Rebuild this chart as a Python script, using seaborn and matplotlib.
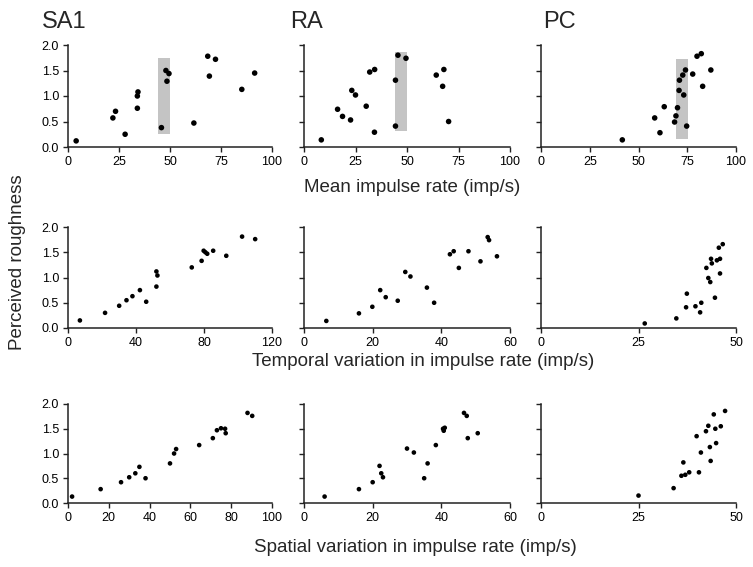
import numpy as np
import pandas as pd
import matplotlib
matplotlib.use("Agg")
import matplotlib.pyplot as plt
import seaborn as sns

# perceived roughness vs. three impulse rate measures, per afferent type
types = ["SA1", "RA", "PC"]
measures = ["Mean impulse rate (imp/s)",
            "Temporal variation in impulse rate (imp/s)",
            "Spatial variation in impulse rate (imp/s)"]

# row 1: mean impulse rate
sa1_mean_x = [4, 22, 23.3, 28, 34, 34, 34.3, 45.8, 48, 49.5, 48.5, 61.7, 68.5, 72.3, 69.3, 85.2, 91.5]
sa1_mean_y = [0.12, 0.57, 0.70, 0.25, 0.76, 1.00, 1.08, 0.38, 1.50, 1.44, 1.29, 0.47, 1.78, 1.72, 1.39, 1.13, 1.45]
ra_mean_x = [8.4, 16.3, 18.7, 22.6, 23.2, 25, 30.2, 31.9, 34.3, 34.2, 44.4, 44.4, 45.6, 49.5, 64.2, 67.9, 67.3, 70.2]
ra_mean_y = [0.14, 0.74, 0.60, 0.53, 1.11, 1.02, 0.80, 1.47, 1.52, 0.29, 1.31, 0.41, 1.80, 1.74, 1.41, 1.52, 1.19, 0.50]
pc_mean_x = [41.7, 58.3, 63.2, 61, 68.5, 69.2, 70, 74.7, 70.8, 73.2, 71, 72.7, 74.1, 77.8, 80, 82.2, 87.1, 82.9]
pc_mean_y = [0.14, 0.57, 0.79, 0.28, 0.49, 0.61, 0.77, 0.41, 1.11, 1.02, 1.31, 1.41, 1.51, 1.43, 1.78, 1.83, 1.51, 1.19]

# row 2: temporal variation
sa1_temp_x = [7, 21.8, 30.1, 34.4, 37.9, 42.3, 46, 52, 52, 52.6, 72.8, 78.6, 79.8, 80.8, 81.9, 85.4, 93.1, 102.4, 110.1]
sa1_temp_y = [0.15, 0.30, 0.44, 0.55, 0.63, 0.75, 0.52, 0.82, 1.12, 1.04, 1.20, 1.33, 1.53, 1.50, 1.47, 1.53, 1.43, 1.81, 1.76]
ra_temp_x = [6.5, 16, 19.9, 22.2, 23.8, 27.3, 29.5, 31, 35.8, 37.9, 42.5, 43.6, 45.1, 47.9, 51.4, 53.5, 53.9, 56.2]
ra_temp_y = [0.14, 0.29, 0.42, 0.75, 0.61, 0.54, 1.11, 1.02, 0.80, 0.50, 1.46, 1.52, 1.19, 1.52, 1.32, 1.80, 1.74, 1.42]
pc_temp_x = [26.6, 34.7, 37.4, 37.2, 39.6, 40.8, 41.1, 42.4, 42.9, 43.4, 43.6, 43.8, 44.6, 45.1, 45.9, 45.6, 45.9, 46.6]
pc_temp_y = [0.09, 0.19, 0.68, 0.41, 0.43, 0.31, 0.50, 1.19, 0.99, 0.91, 1.37, 1.28, 0.60, 1.34, 1.37, 1.59, 1.08, 1.66]

# row 3: spatial variation
sa1_spat_x = [2, 16, 26, 30, 33, 35, 38, 50, 52, 53, 64.3, 71, 73, 75, 77, 77.3, 88, 90.3]
sa1_spat_y = [0.13, 0.28, 0.42, 0.52, 0.60, 0.73, 0.50, 0.80, 1.00, 1.09, 1.17, 1.31, 1.47, 1.51, 1.50, 1.41, 1.82, 1.76]
ra_spat_x = [6, 16, 20, 22, 22.5, 23, 30, 32, 35, 36, 38.4, 40.5, 40.7, 41, 46.6, 47.4, 47.7, 50.6]
ra_spat_y = [0.13, 0.28, 0.42, 0.75, 0.60, 0.52, 1.10, 1.02, 0.50, 0.80, 1.17, 1.50, 1.46, 1.52, 1.82, 1.76, 1.31, 1.41]
pc_spat_x = [25, 34, 36, 36.5, 37, 38, 39.9, 40.5, 41, 42.3, 42.9, 43.3, 43.5, 44.3, 44.7, 44.9, 46.1, 47.2]
pc_spat_y = [0.15, 0.30, 0.55, 0.82, 0.57, 0.62, 1.35, 0.62, 1.02, 1.45, 1.56, 1.13, 0.85, 1.79, 1.50, 1.21, 1.55, 1.86]

x_limits = [[100, 100, 100], [120, 60, 50], [100, 60, 50]]
x_ticks = [[[0, 25, 50, 75, 100]] * 3,
           [[0, 40, 80, 120], [0, 20, 40, 60], [0, 25, 50]],
           [[0, 20, 40, 60, 80, 100], [0, 20, 40, 60], [0, 25, 50]]]

# grey bands marking the selected rate range in the top row
bands = [(44.3, 50.0, 0.25, 1.74), (44.0, 50.0, 0.31, 1.86), (69.0, 75.3, 0.15, 1.72)]

panels = [
    [(sa1_mean_x, sa1_mean_y), (ra_mean_x, ra_mean_y), (pc_mean_x, pc_mean_y)],
    [(sa1_temp_x, sa1_temp_y), (ra_temp_x, ra_temp_y), (pc_temp_x, pc_temp_y)],
    [(sa1_spat_x, sa1_spat_y), (ra_spat_x, ra_spat_y), (pc_spat_x, pc_spat_y)],
]

sns.set_style("ticks")
plt.rcParams["font.family"] = ["Liberation Sans", "DejaVu Sans"]

W, H = 753, 567
fig = plt.figure(figsize=(W / 100, H / 100), dpi=100)

col_px = [(68, 272), (304, 510), (541, 736)]
row_px = [(45, 147), (227, 328), (404, 503)]

for r in range(3):
    for c in range(3):
        x0, x1 = col_px[c]
        y0, y1 = row_px[r]
        ax = fig.add_axes([x0 / W, 1 - y1 / H, (x1 - x0) / W, (y1 - y0) / H])
        if r == 0:
            bx0, bx1, by0, by1 = bands[c]
            ax.fill_between([bx0, bx1], by0, by1, color="#c4c4c4", lw=0, zorder=0)
        xs, ys = panels[r][c]
        df = pd.DataFrame({"x": xs, "y": ys})
        sns.scatterplot(data=df, x="x", y="y", ax=ax, color="black",
                        s=16 if r == 0 else 11, edgecolor="none", zorder=3,
                        clip_on=False)
        ax.set_xlim(0, x_limits[r][c])
        ax.set_ylim(0, 2.0)
        ax.set_xticks(x_ticks[r][c])
        ax.set_yticks([0, 0.5, 1.0, 1.5, 2.0])
        if c == 0:
            ax.set_yticklabels(["0.0", "0.5", "1.0", "1.5", "2.0"])
        else:
            ax.set_yticklabels([])
        ax.set_xlabel("")
        ax.set_ylabel("")
        ax.tick_params(direction="out", length=3.5, width=1.0, labelsize=9,
                       colors="#222222", labelcolor="black", pad=3)
        sns.despine(ax=ax)
        for s in ["left", "bottom"]:
            ax.spines[s].set_linewidth(1.1)
            ax.spines[s].set_color("#222222")

# column titles
for c, (name, xp) in enumerate(zip(types, [42, 290, 543])):
    fig.text(xp / W, 1 - 22 / H, name, fontsize=17, ha="left", va="center")

# row labels (x axes)
for r, (lab, xc, yc) in enumerate(zip(measures, [412, 423, 415], [188, 362, 548])):
    fig.text(xc / W, 1 - yc / H, lab, fontsize=13.5, ha="center", va="center")

fig.text(18 / W, 1 - 262 / H, "Perceived roughness", fontsize=13.5,
         rotation=90, ha="center", va="center")

fig.savefig("out.png", dpi=100)
